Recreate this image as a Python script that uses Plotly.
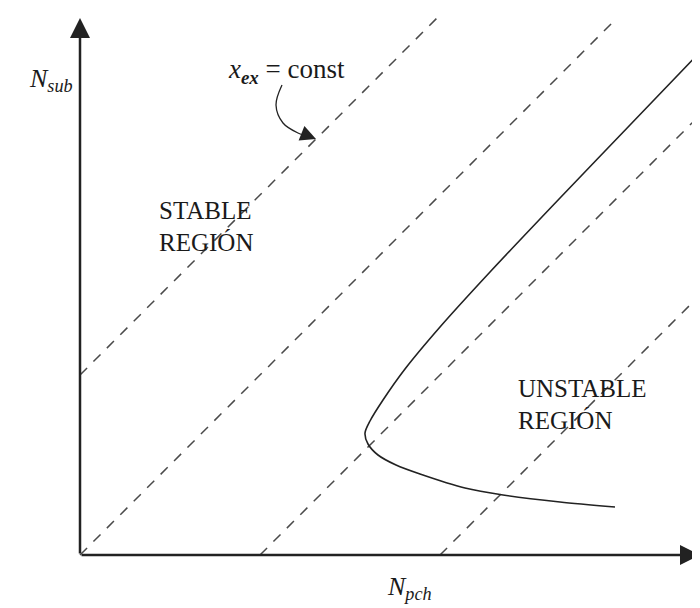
import plotly.graph_objects as go

# chart coordinates: origin at the corner of the two axes
x_max = 620
y_max = 537

# lines of constant exit quality: y = x + offset
dash_offsets = [180, 0, -180, -360]

# stability boundary (upper branch -> nose -> lower branch)
curve_x = [620, 550, 480, 410, 360, 325, 303, 290, 285, 288, 298, 316, 340, 385, 423, 480, 535]
curve_y = [503, 430, 357, 283, 228, 186, 155, 134, 122, 111, 100, 90, 81, 67, 60, 53, 48]

# curved pointer for the "x_ex = const" label
pointer_x = [202, 196, 203, 218, 230]
pointer_y = [470, 450, 432, 422, 418]

font_family = "Liberation Serif, Times New Roman, serif"

fig = go.Figure()

for off in dash_offsets:
    x0 = max(0, -off)
    x1 = min(x_max, y_max - off)
    fig.add_trace(go.Scatter(
        x=[x0, x1], y=[x0 + off, x1 + off], mode="lines",
        line=dict(color="#4a4a4a", width=1.5, dash="10px,9px"),
        hoverinfo="skip", showlegend=False,
    ))

fig.add_trace(go.Scatter(
    x=curve_x, y=curve_y, mode="lines",
    line=dict(color="#222222", width=1.6, shape="spline", smoothing=0.8),
    hoverinfo="skip", showlegend=False,
))

fig.add_trace(go.Scatter(
    x=pointer_x, y=pointer_y, mode="lines",
    line=dict(color="#222222", width=1.3, shape="spline"),
    hoverinfo="skip", showlegend=False,
))

# axes with arrow heads
arrow = dict(xref="x", yref="y", axref="x", ayref="y", text="",
             showarrow=True, arrowhead=2, arrowcolor="#222222")
fig.add_annotation(x=x_max, y=0, ax=0, ay=0, arrowwidth=2.5, arrowsize=1.6, **arrow)
fig.add_annotation(x=0, y=y_max, ax=0, ay=0, arrowwidth=2.5, arrowsize=1.6, **arrow)
fig.add_annotation(x=236, y=416, ax=226, ay=420, arrowwidth=1.3, arrowsize=2.4, **arrow)

txt = dict(xref="x", yref="y", showarrow=False, xanchor="left", yanchor="middle",
           font=dict(family=font_family, size=25, color="#1a1a1a"))
fig.add_annotation(x=77, y=345, text="STABLE", **txt)
fig.add_annotation(x=77, y=313, text="REGIÓN", **txt)
fig.add_annotation(x=436, y=167, text="UNSTABLE", **txt)
fig.add_annotation(x=436, y=135, text="REGIÓN", **txt)
fig.add_annotation(x=146, y=484, text="<i>x</i><sub><i><b>ex</b></i></sub> = const",
                   xref="x", yref="y", showarrow=False, xanchor="left", yanchor="middle",
                   font=dict(family=font_family, size=27, color="#1a1a1a"))

lab = dict(xref="x", yref="y", showarrow=False, xanchor="left", yanchor="middle",
           font=dict(family=font_family, size=26, color="#1a1a1a"))
fig.add_annotation(x=-53, y=475, text="<i>N<sub>sub</sub></i>", **lab)
fig.add_annotation(x=305, y=-33, text="<i>N<sub>pch</sub></i>", **lab)

# page body has an 8px margin, so the figure is 692x600 and sits at (8, 8)
fig.update_layout(
    width=692, height=600,
    margin=dict(l=0, r=0, t=0, b=0),
    plot_bgcolor="white", paper_bgcolor="white",
    xaxis=dict(range=[-72, 620], visible=False, fixedrange=True),
    yaxis=dict(range=[-53, 547], visible=False, fixedrange=True),
)

fig.write_html("out.html")
